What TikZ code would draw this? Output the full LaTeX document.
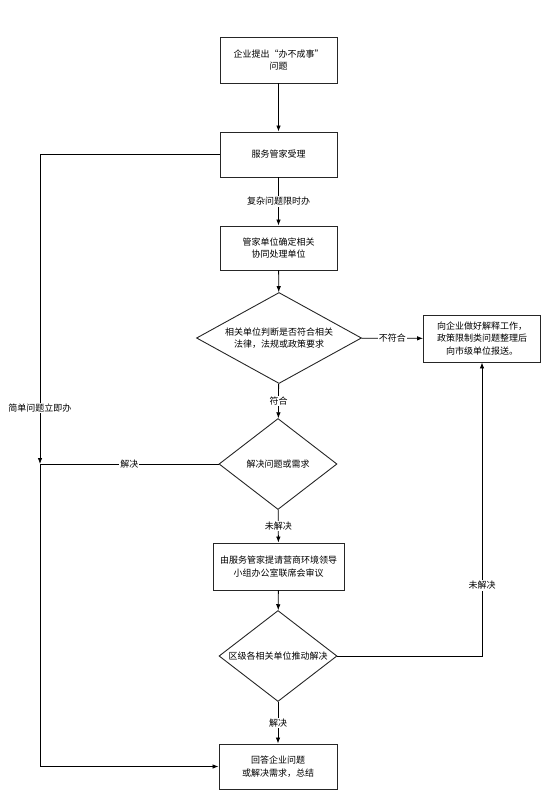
\documentclass[tikz,border=0pt]{standalone}
\usepackage{fontspec}
\setmainfont{Noto Sans CJK SC}
\usetikzlibrary{shapes.geometric, arrows.meta}

\begin{document}
\begin{tikzpicture}[x=1pt, y=-1pt, >={Latex[length=6pt,width=4.5pt]},
	box/.style={shape=rectangle, draw=black!85, line width=0.9pt, align=center, inner sep=1pt},
	choice/.style={shape=diamond, draw=black!85, line width=0.9pt, align=center, inner sep=0pt},
	line/.style={->, line width=0.8pt},
	lbl/.style={fill=white, inner sep=1pt},
	every node/.style={font=\fontsize{9}{12.5}\selectfont}]

	\useasboundingbox (0,0) rectangle (549,798);

	\node[box, minimum width=117pt, minimum height=46pt] (ask) at (278.5, 60)     {企业提出“办不成事”\\问题};
	\node[box, minimum width=117pt, minimum height=45pt] (accept) at (278.5, 154.5)     {服务管家受理};
	\node[box, minimum width=117pt, minimum height=44pt] (assign) at (278.5, 248)     {管家单位确定相关\\协同处理单位};
	\node[choice, aspect=1.8, minimum width=165pt, minimum height=91pt] (judge) at (279, 338)     {相关单位判断是否符合相关\\法律，法规或政策要求};
	\node[box, minimum width=117pt, minimum height=47pt] (explain) at (482, 338.5)     {向企业做好解释工作，\\政策限制类问题整理后\\向市级单位报送。};
	\node[choice, aspect=1.3, minimum width=118pt, minimum height=91pt] (resolve) at (278, 464)     {解决问题或需求};
	\node[box, minimum width=131pt, minimum height=47pt] (escalate) at (278.5, 566.5)     {由服务管家提请营商环境领导\\小组办公室联席会审议};
	\node[choice, aspect=1.6, minimum width=118pt, minimum height=91pt] (push) at (278, 656)     {区级各相关单位推动解决};
	\node[box, minimum width=118pt, minimum height=45pt] (answer) at (278, 766.5)     {回答企业问题\\或解决需求，总结};

	\coordinate (mid) at (40, 464);

	\path[line] (ask) edge (accept);
	\path[line] (accept) edge node[lbl] {复杂问题限时办} (assign);
	\path[line] (assign) edge (judge);
	\path[line] (judge) edge node[lbl] {不符合} (explain);
	\path[line] (judge) edge node[lbl] {符合} (resolve);
	\path[line] (resolve) edge node[lbl] {未解决} (escalate);
	\path[line] (escalate) edge (push);
	\path[line] (push) edge node[lbl] {解决} (answer);

	\draw[line] (push.east) -| node[lbl, pos=0.62] {未解决} (explain.south);
	\draw[line] (accept.west) -| node[lbl, pos=0.91] {简单问题立即办} (mid);
	\draw[line width=0.8pt] (resolve.west) -- node[lbl] {解决} (mid);
	\draw[line] (mid) |- (answer.west);

\end{tikzpicture}
\end{document}
